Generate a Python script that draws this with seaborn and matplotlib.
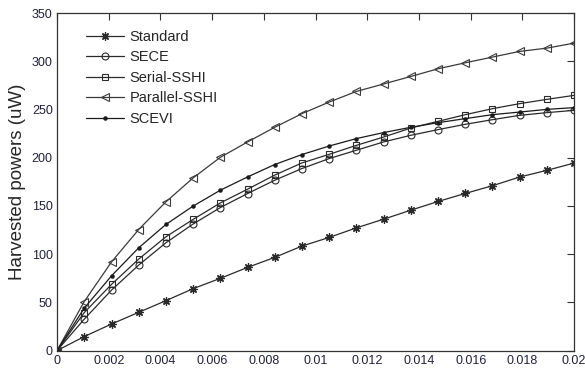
####
#imports
####

import numpy as np
import pandas as pd
import matplotlib
matplotlib.use('Agg')
import matplotlib.pyplot as plt
import seaborn as sns

####
#data
####

load_r = [0, 0.00105, 0.00211, 0.00316, 0.00421, 0.00526, 0.00632, 0.00737, 0.00842, 0.00947,
          0.01053, 0.01158, 0.01263, 0.01368, 0.01474, 0.01579, 0.01684, 0.01789, 0.01895, 0.02]

standard = [0, 14.5, 27.6, 39.7, 51.8, 64.2, 75.0, 86.3, 96.7, 108.4,
            117.4, 127.3, 136.3, 145.6, 154.7, 163.0, 171.0, 180.0, 187.0, 194.5]
sece = [0, 32.5, 62.8, 88.7, 111.8, 131.2, 148.4, 162.9, 176.7, 188.8,
        199.2, 207.8, 216.4, 223.3, 229.2, 234.7, 239.5, 244.0, 246.8, 249.2]
serial_sshi = [0, 39.3, 68.7, 94.9, 118.0, 136.0, 153.2, 167.4, 182.0, 194.6,
               203.6, 212.9, 221.5, 230.8, 237.8, 244.7, 250.9, 256.1, 260.6, 264.7]
parallel_sshi = [0, 50.7, 92.0, 125.6, 154.2, 179.0, 200.5, 216.4, 231.6, 245.7,
                 257.8, 268.8, 276.5, 284.3, 292.3, 298.5, 304.4, 310.3, 313.7, 318.9]
scevi = [0, 43.9, 77.6, 106.6, 130.8, 149.8, 166.4, 180.1, 193.0, 203.3,
         212.2, 219.9, 226.1, 231.6, 236.4, 240.6, 244.7, 247.4, 250.2, 252.0]

series_names = ['Standard', 'SECE', 'Serial-SSHI', 'Parallel-SSHI', 'SCEVI']
x_ticks = [0, 0.002, 0.004, 0.006, 0.008, 0.01, 0.012, 0.014, 0.016, 0.018, 0.02]
x_tick_labels = ['0', '0.002', '0.004', '0.006', '0.008', '0.01', '0.012', '0.014', '0.016', '0.018', '0.02']
y_ticks = [0, 50, 100, 150, 200, 250, 300, 350]

####
#plot
####

sns.set_style('white')
plt.rcParams['font.family'] = ['Liberation Sans', 'DejaVu Sans']

fig = plt.figure(figsize=(5.85, 3.75), dpi=100)
ax = fig.add_axes([0.0974, 0.065, 0.884, 0.9])

# marker looks per series, close to the old matlab figure
styles = {
    'Standard': dict(marker=(8, 2, 0), ms=6, color='#2a2a2a', mew=0.9),
    'SECE': dict(marker='o', ms=5, color='#2a2a2a', mfc='none', mew=0.8),
    'Serial-SSHI': dict(marker='s', ms=5, color='#2a2a2a', mfc='none', mew=0.8),
    'Parallel-SSHI': dict(marker='<', ms=6, color='#3a3a3a', mfc='none', mew=0.8),
    'SCEVI': dict(marker='.', ms=4.5, color='#1a1a1a'),
}

df = pd.DataFrame({'x': load_r, 'Standard': standard, 'SECE': sece,
                   'Serial-SSHI': serial_sshi, 'Parallel-SSHI': parallel_sshi, 'SCEVI': scevi})

for name in series_names:
    st = styles[name]
    sns.lineplot(data=df, x='x', y=name, ax=ax, label=name, color=st['color'], lw=0.9,
                 marker=st['marker'], markersize=st['ms'],
                 markerfacecolor=st.get('mfc', st['color']),
                 markeredgecolor=st['color'], markeredgewidth=st.get('mew', 1))

ax.set_xlim(0, 0.02)
ax.set_ylim(0, 350)
ax.set_xticks(x_ticks)
ax.set_xticklabels(x_tick_labels)
ax.set_yticks(y_ticks)
ax.set_xlabel('')
ax.set_ylabel('Harvested powers (uW)', fontsize=13.5, labelpad=4)

ax.tick_params(direction='in', length=5, width=0.8, top=True, right=True,
               labelsize=9, pad=3, colors='#333333', labelcolor='#20203a')
for sp in ax.spines.values():
    sp.set_visible(True)
    sp.set_color('#333333')
    sp.set_linewidth(0.9)

ax.legend(loc='upper left', bbox_to_anchor=(0.03, 0.99), frameon=False,
          fontsize=10.5, handlelength=2.6, handletextpad=0.4, labelspacing=0.45)

fig.savefig('out.png', dpi=100)
plt.close(fig)
